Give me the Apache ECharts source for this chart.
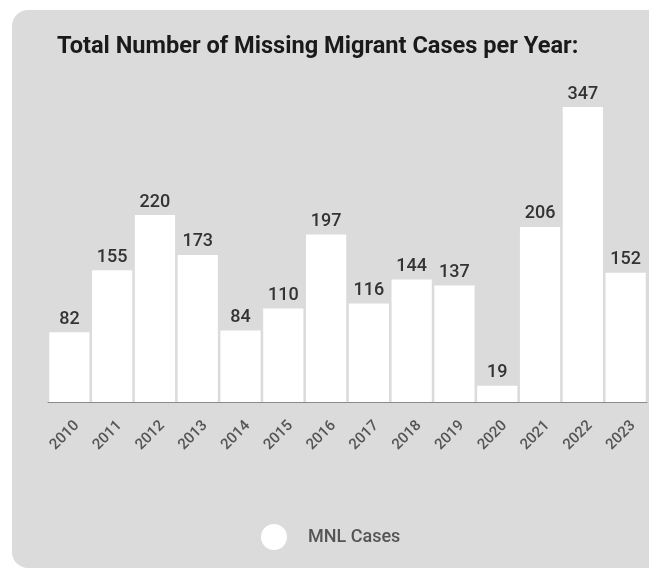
<!DOCTYPE html>
<html>
<head>
<meta charset="utf-8">
<script src="https://cdn.jsdelivr.net/npm/echarts@6/dist/echarts.min.js"></script>
<style>
  html, body { margin: 0; padding: 0; background: #ffffff; }
  #chart { width: 649px; height: 570px; }
</style>
</head>
<body>
<div id="chart"></div>
<script>
// Yearly totals of missing migrant cases
const years = ['2010', '2011', '2012', '2013', '2014', '2015', '2016',
               '2017', '2018', '2019', '2020', '2021', '2022', '2023'];
const mnlCases = [82, 155, 220, 173, 84, 110, 197, 116, 144, 137, 19, 206, 347, 152];

const chart = echarts.init(document.getElementById('chart'), null, { renderer: 'canvas' });

chart.setOption({
  backgroundColor: '#ffffff',
  animation: false,
  textStyle: { fontFamily: 'Roboto' },
  graphic: [{
    type: 'rect',
    z: -10,
    silent: true,
    shape: { x: 12, y: 10, width: 680, height: 558, r: 16 },
    style: { fill: '#dbdbdb' }
  }],
  title: {
    text: 'Total Number of Missing Migrant Cases per Year:',
    left: 52,
    top: 30,
    textStyle: { fontFamily: 'Roboto', fontSize: 23.6, fontWeight: 'bold', color: '#1a1a1a' }
  },
  legend: {
    data: ['MNL Cases'],
    left: 256,
    top: 519,
    icon: 'circle',
    itemWidth: 26,
    itemHeight: 26,
    textStyle: { fontSize: 18, fontWeight: 500, color: '#555', padding: [0, 0, 0, 16] }
  },
  grid: { left: 48, right: 2, top: 62, bottom: 168 },
  xAxis: {
    type: 'category',
    data: years,
    axisLine: { lineStyle: { color: '#8a8a8a', width: 1 } },
    axisTick: { show: false },
    axisLabel: {
      rotate: 45,
      margin: 14,
      verticalAlign: 'top',
      padding: [3, 0, 0, 0],
      fontSize: 15,
      fontWeight: 500,
      color: '#555'
    }
  },
  yAxis: {
    type: 'value',
    min: 0,
    max: 400,
    show: false,
    splitLine: { show: false }
  },
  series: [{
    name: 'MNL Cases',
    type: 'bar',
    data: mnlCases,
    barCategoryGap: '6%',
    itemStyle: { color: '#ffffff' },
    label: {
      show: true,
      position: 'top',
      distance: 4,
      fontSize: 18,
      fontWeight: 500,
      color: '#333'
    }
  }]
});
</script>
</body>
</html>
